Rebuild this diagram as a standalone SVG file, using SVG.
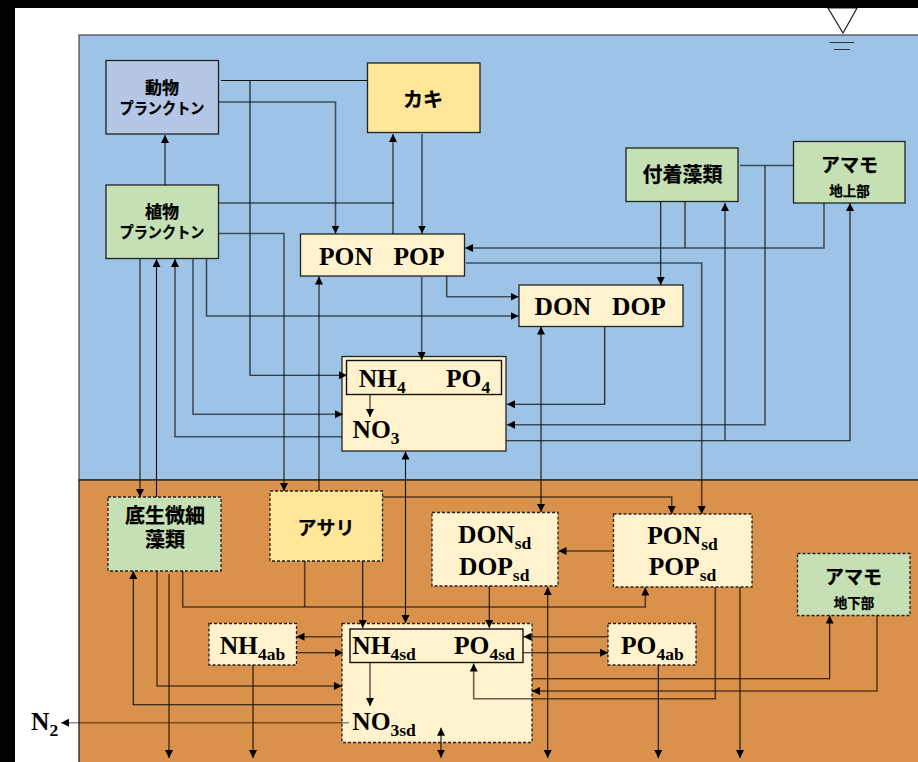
<svg xmlns="http://www.w3.org/2000/svg" width="918" height="762" viewBox="0 0 918 762">
<style>
.n{stroke:#222;stroke-width:1.3}
.d{stroke:#222;stroke-width:1.3;stroke-dasharray:3 2}
.cream{fill:#fff2cc}.yellow{fill:#ffe699}.green{fill:#c5e0b4}.zoo{fill:#b4c7e7}
.t{font-family:"Liberation Serif","Times New Roman",serif;font-weight:700;font-size:25.5px;fill:#000}
.s{font-size:17.5px}
.j{font-family:"Noto Sans CJK JP","Noto Sans",sans-serif;font-weight:700;font-size:17px;fill:#000;text-anchor:middle;stroke:#000;stroke-width:.25}
.j2{font-size:20px}.j4{font-size:19px}.j3{font-size:13.5px}
.k{font-size:15.5px}
.c path,.c line{fill:none;stroke:#111;stroke-width:1.1}
.c .g{stroke:#000;stroke-opacity:.6;stroke-width:1.6}
</style>
<defs>
<marker id="a" markerUnits="userSpaceOnUse" markerWidth="10" markerHeight="10" refX="8" refY="4" orient="auto-start-reverse"><path d="M0,0L8,4L0,8Z" fill="#000"/></marker>
</defs>
<rect width="918" height="762" fill="#fff"/>
<g id="water"><rect x="79" y="35" width="840" height="445" fill="#9dc3e6" stroke="#444" stroke-width="1.2"/></g>
<g id="sediment"><rect x="79" y="480" width="840" height="283" fill="#d9914c" stroke="#111" stroke-width="1.2"/></g>
<g id="level">
<path d="M828,8L857,8L843,33Z" fill="#fff" stroke="#222" stroke-width="1.2"/>
<path d="M829.5,42.5H854M834,49.5H850" stroke="#333" stroke-width="1.2" fill="none"/>
</g>
<rect width="918" height="8" fill="#000"/><rect width="15" height="762" fill="#000"/>
<g id="zooplankton"><rect class="n zoo" x="106" y="60.5" width="112.5" height="73.5"/><text class="j"><tspan x="162" y="94">動物</tspan><tspan class="k" x="162" y="114" textLength="85" lengthAdjust="spacingAndGlyphs">プランクトン</tspan></text></g>
<g id="oyster"><rect class="n yellow" x="367.5" y="63" width="112.5" height="69.5"/><text class="j j2" x="423" y="106.5">カキ</text></g>
<g id="phytoplankton"><rect class="n green" x="106" y="185" width="112.5" height="73.5"/><text class="j"><tspan x="162" y="218">植物</tspan><tspan class="k" x="162" y="238" textLength="85" lengthAdjust="spacingAndGlyphs">プランクトン</tspan></text></g>
<g id="epiphyte"><rect class="n green" x="626" y="148" width="112" height="53.5"/><text class="j j2" x="682.5" y="182">付着藻類</text></g>
<g id="zostera-above"><rect class="n green" x="793.5" y="141.5" width="111.5" height="61.5"/><text class="j j4" x="849.5" y="172">アマモ</text><text class="j j3" x="849.5" y="195.5">地上部</text></g>
<g id="pon-pop"><rect class="n cream" x="300.5" y="234" width="164" height="42"/><text class="t" x="319" y="265">PON</text><text class="t" x="393.5" y="265">POP</text></g>
<g id="don-dop"><rect class="n cream" x="519" y="285" width="164" height="41.5"/><text class="t" x="534.5" y="315">DON</text><text class="t" x="612" y="315">DOP</text></g>
<g id="inorganic"><rect class="n cream" x="342" y="356.5" width="164" height="94.5"/><rect x="346.5" y="360.5" width="155" height="34" fill="none" stroke="#111" stroke-width="1.4"/>
<text class="t" x="358.7" y="386.5">NH<tspan class="s" dy="6.5">4</tspan></text><text class="t" x="446" y="386.5">PO<tspan class="s" dy="6.5">4</tspan></text><text class="t" x="352.5" y="437.5">NO<tspan class="s" dy="6.5">3</tspan></text></g>
<g id="benthic-algae"><rect class="d green" x="108" y="497" width="113" height="74"/><text class="j j2"><tspan x="165" y="523">底生微細</tspan><tspan x="165" y="547">藻類</tspan></text></g>
<g id="clam"><rect class="d yellow" x="270" y="491" width="112.5" height="70"/><text class="j j4" x="326" y="535">アサリ</text></g>
<g id="don-dop-sd"><rect class="d cream" x="432" y="512.5" width="126" height="73.5"/><text class="t" x="458" y="543">DON<tspan class="s" dy="6">sd</tspan></text><text class="t" x="459" y="575">DOP<tspan class="s" dy="6">sd</tspan></text></g>
<g id="pon-pop-sd"><rect class="d cream" x="613.5" y="514" width="138.5" height="73"/><text class="t" x="647.3" y="544">PON<tspan class="s" dy="6">sd</tspan></text><text class="t" x="648.7" y="575">POP<tspan class="s" dy="6">sd</tspan></text></g>
<g id="zostera-below"><rect class="d green" x="797.5" y="553.5" width="112.5" height="62"/><text class="j j4" x="853.5" y="584">アマモ</text><text class="j j3" x="854" y="607.5">地下部</text></g>
<g id="nh4ab"><rect class="d cream" x="209" y="623.5" width="87.5" height="41.5"/><text class="t" x="219.7" y="654">NH<tspan class="s" dy="6">4ab</tspan></text></g>
<g id="sediment-inorganic"><rect class="d cream" x="342" y="623.5" width="190" height="119"/><rect x="350" y="629" width="173" height="33.5" fill="none" stroke="#111" stroke-width="1.4"/>
<text class="t" x="352.3" y="654">NH<tspan class="s" dy="6">4sd</tspan></text><text class="t" x="454" y="654">PO<tspan class="s" dy="6">4sd</tspan></text><text class="t" x="352.3" y="730">NO<tspan class="s" dy="6">3sd</tspan></text></g>
<g id="po4ab"><rect class="d cream" x="608" y="623.5" width="88" height="41.5"/><text class="t" x="621" y="654">PO<tspan class="s" dy="6">4ab</tspan></text></g>
<g id="n2"><text class="t" x="31" y="730">N<tspan class="s" dy="6">2</tspan></text></g>
<g id="connectors" class="c">
<path d="M221,80.5H367.5"/>
<path d="M250,80.5V375.3H347" marker-end="url(#a)"/>
<path class="g" d="M218.5,102H335.5V233.5" marker-end="url(#a)"/>
<path class="g" d="M165,185V135" marker-end="url(#a)"/>
<path d="M219,203H394"/>
<path class="g" d="M393,234V134" marker-end="url(#a)"/>
<path class="g" d="M422,134V233.5" marker-end="url(#a)"/>
<path class="g" d="M219,233.5H284V491" marker-end="url(#a)"/>
<path class="g" d="M140,259V497" marker-end="url(#a)"/>
<path d="M156.5,497V259" marker-end="url(#a)"/>
<path class="g" d="M342,436.7H175V259" marker-end="url(#a)"/>
<path class="g" d="M193,259V414.3H343" marker-end="url(#a)"/>
<path class="g" d="M206.5,259V316H518.5" marker-end="url(#a)"/>
<path class="g" d="M421.7,277V360" marker-end="url(#a)"/>
<path class="g" d="M446.7,276V296.7H518.5" marker-end="url(#a)"/>
<path class="g" d="M319,491V276.5" marker-end="url(#a)"/>
<path class="g" d="M370,395V417" marker-end="url(#a)"/>
<path d="M405.5,451.5V623" marker-start="url(#a)" marker-end="url(#a)"/>
<path d="M541,326.5V512" marker-start="url(#a)" marker-end="url(#a)"/>
<path class="g" d="M466,263H701.7V514" marker-end="url(#a)"/>
<path class="g" d="M383,497H671.7V514" marker-end="url(#a)"/>
<path d="M660.7,201.5V285" marker-end="url(#a)"/>
<path d="M685,201.5V248"/>
<path class="g" d="M824,203V248H465" marker-end="url(#a)"/>
<path class="g" d="M725,440.7V203" marker-end="url(#a)"/>
<path class="g" d="M740,165.5H794"/>
<path class="g" d="M765,165.5V424.7H507" marker-end="url(#a)"/>
<path d="M506,440.7H850V203" marker-end="url(#a)"/>
<path d="M604.7,326.5V404.3H507" marker-end="url(#a)"/>
<path class="g" d="M157,571V686H342" marker-end="url(#a)"/>
<path class="g" d="M169,574V758" marker-end="url(#a)"/>
<path class="g" d="M182.7,571V607H645.3V587.5" marker-end="url(#a)"/>
<path class="g" d="M304.7,561V607"/>
<path d="M362.7,561V628" marker-end="url(#a)"/>
<path d="M342,704.7H133.3V571" marker-end="url(#a)"/>
<path class="g" d="M342,636.7H296.5" marker-end="url(#a)"/>
<path d="M297,652.7H343" marker-end="url(#a)"/>
<path d="M253,665V758" marker-end="url(#a)"/>
<path class="g" d="M349,722.7H61" marker-end="url(#a)" style="stroke-opacity:.45"/>
<path class="g" d="M370,662.5V706" marker-end="url(#a)"/>
<path d="M441,727.7V757.7" marker-start="url(#a)" marker-end="url(#a)"/>
<path d="M489.3,586V628" marker-end="url(#a)"/>
<path class="g" d="M613.5,551H558.5" marker-end="url(#a)"/>
<path d="M547.7,587V758" marker-start="url(#a)" marker-end="url(#a)"/>
<path class="g" d="M607.5,636.7H523.5" marker-end="url(#a)"/>
<path d="M523,652.7H608" marker-end="url(#a)"/>
<path d="M658.3,665V758" marker-end="url(#a)"/>
<path d="M740,587V758" marker-end="url(#a)"/>
<path class="g" d="M715.3,587V698.7H473.7V663.5" marker-end="url(#a)"/>
<path d="M532,678.7H829.7V615.5" marker-end="url(#a)"/>
<path class="g" d="M877,615.5V691H532" marker-end="url(#a)"/>
</g>
</svg>
